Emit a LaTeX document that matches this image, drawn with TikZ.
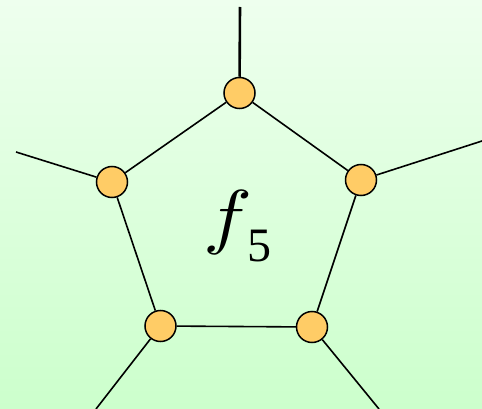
\documentclass[tikz,border=0pt]{standalone}
\usepackage{graphicx}
\usepackage{fontspec}
\setmainfont{Liberation Serif}
\usetikzlibrary{positioning}
\definecolor{bgtop}{HTML}{EEFFEE}
\definecolor{bgbottom}{HTML}{CCFFCC}
\definecolor{vertexfill}{HTML}{FFCC66}
\tikzset{
  vertex/.style={circle, draw=black, line width=1.5pt, fill=vertexfill, minimum size=31pt, inner sep=0pt},
  edge/.style={line width=1.6pt},
}
\begin{document}
\begin{tikzpicture}[x=1pt, y=-1pt]
    \shade[top color=bgtop, bottom color=bgbottom] (0,0) rectangle (482,409);
    \useasboundingbox (0,0) rectangle (482,409);
    % the five corners of the face
    \node[vertex] (top) at (239.5,93) {};
    \node[vertex] (left) at (112,182) {};
    \node[vertex] (right) at (361,180) {};
    \node[vertex] (botleft) at (160.5,326) {};
    \node[vertex] (botright) at (312,327) {};
    % loose ends
    \coordinate (topout) at (240,7);
    \coordinate (leftout) at (16,152);
    \coordinate (rightout) at (482,141);
    \coordinate (botleftout) at (96,409);
    \coordinate (botrightout) at (379,409);
    \draw[line width=2.6pt] (topout) -- (top);
    \draw[edge] (leftout) -- (left);
    \draw[edge] (rightout) -- (right);
    \draw[edge] (botleftout) -- (botleft);
    \draw[edge] (botrightout) -- (botright);
    \draw[edge] (top) -- (right) -- (botright) -- (botleft) -- (left) -- (top);
    \node[anchor=base west, inner sep=0pt] (face) at (203,240)
      {\scalebox{8.2}[7.2]{$f$}\kern-5pt\raisebox{-21pt}{\fontsize{48}{48}\selectfont 5}};
  \end{tikzpicture}
\end{document}
